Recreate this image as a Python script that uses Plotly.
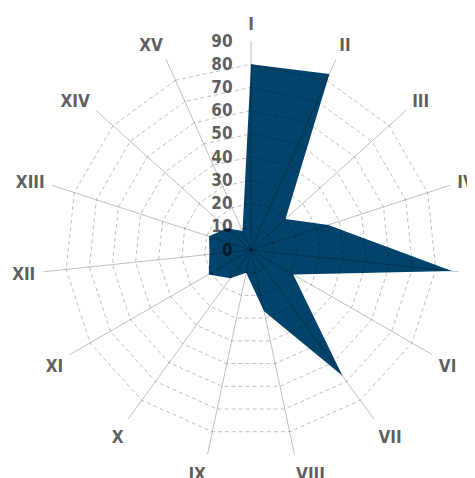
import plotly.graph_objects as go

categories = ["I", "II", "III", "IV", "V", "VI", "VII", "VIII", "IX", "X", "XI", "XII", "XIII", "XIV", "XV"]
values = [80, 83, 20, 35, 87, 21, 67, 27, 10, 15, 21, 18, 19, 14, 9]
radial_ticks = [0, 10, 20, 30, 40, 50, 60, 70, 80, 90]

FONT = "DejaVu Sans Condensed, Liberation Sans Narrow, Arial Narrow, sans-serif"
LABEL = "rgba(0,0,0,0.65)"
GRID = "rgba(0,0,0,0.25)"

fig = go.Figure()
fig.add_trace(go.Scatterpolar(
    r=values + values[:1], theta=categories + categories[:1],
    mode="lines", fill="toself", fillcolor="#02436b",
    line=dict(color="#02436b", width=0), subplot="polar", hoverinfo="skip",
))
fig.add_trace(go.Scatterpolar(
    r=[0], theta=categories[:1], mode="markers", marker=dict(opacity=0),
    subplot="polar2", hoverinfo="skip",
))

dom = dict(x=[0, 1], y=[0, 1])
common_r = dict(range=[0, 90], tickvals=radial_ticks)
common_a = dict(direction="clockwise", rotation=90, categoryarray=categories,
                categoryorder="array", type="category")

fig.update_layout(
    width=475, height=478,
    margin=dict(l=34, r=23, t=33, b=27),
    paper_bgcolor="white",
    showlegend=False,
    font=dict(family=FONT),
    polar=dict(
        domain=dom, gridshape="linear", bgcolor="rgba(0,0,0,0)",
        radialaxis=dict(**common_r, ticks="", showgrid=False, showticklabels=False, showline=False),
        angularaxis=dict(**common_a, ticks="", showgrid=False, showticklabels=False, showline=False),
    ),
    polar2=dict(
        domain=dom, gridshape="linear", bgcolor="rgba(0,0,0,0)",
        radialaxis=dict(**common_r, ticks="outside", ticklen=12, tickcolor="rgba(0,0,0,0)",
                        showgrid=True, gridcolor=GRID, griddash="4px,3px",
                        gridwidth=1, showline=False, angle=90, tickangle=90,
                        side="counterclockwise",
                        tickfont=dict(family=FONT, size=17, color=LABEL, weight="bold")),
        angularaxis=dict(**common_a, showgrid=True, gridcolor=GRID, gridwidth=1, showline=False,
                         ticks="outside", ticklen=4, tickcolor="rgba(0,0,0,0)",
                         tickfont=dict(family=FONT, size=17, color=LABEL, weight="bold")),
    ),
)

fig.write_html("out.html")
